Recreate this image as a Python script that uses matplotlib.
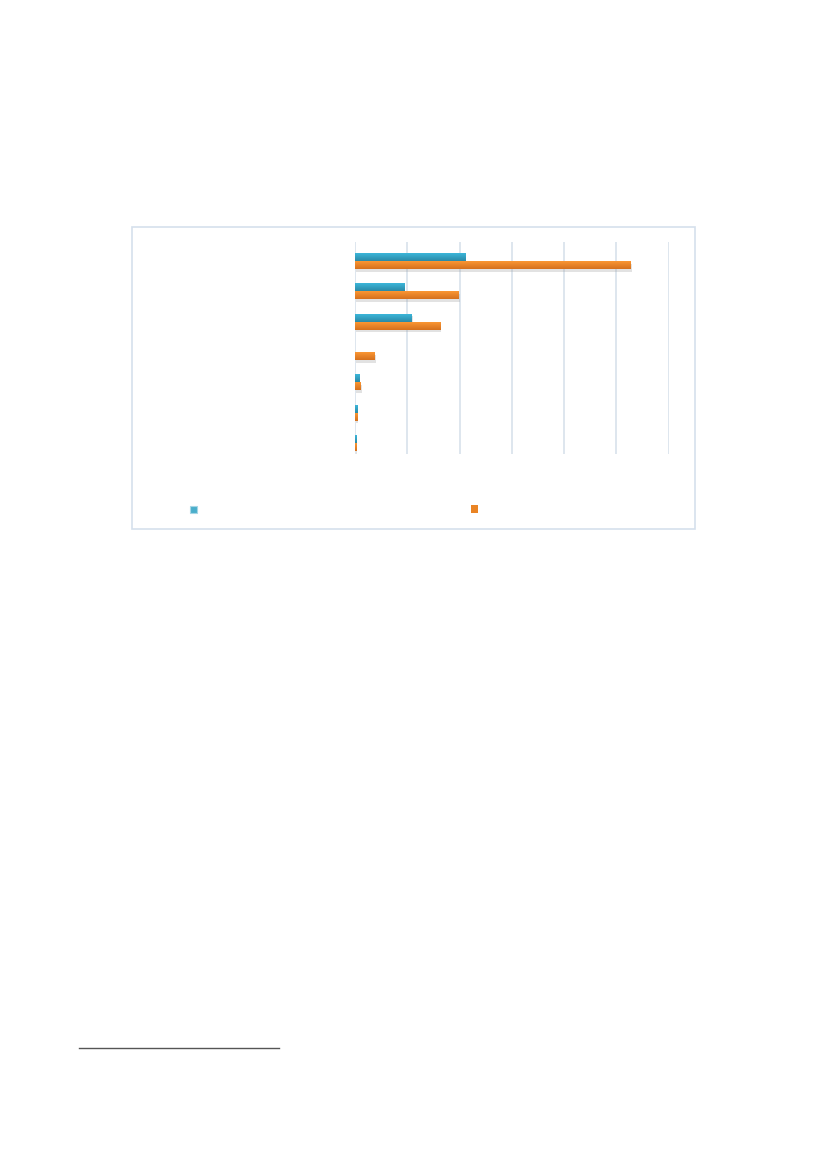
import matplotlib
matplotlib.use('Agg')
import matplotlib.pyplot as plt
import numpy as np
from matplotlib.colors import LinearSegmentedColormap
import matplotlib.patheffects as pe
from matplotlib.patches import Rectangle
from matplotlib.lines import Line2D

# ---- data (in gridline units of 10) ----
categories = ["1", "2", "3", "4", "5", "6", "7"]   # category labels are not visible in the reference
series1 = [21.1, 9.4, 10.9, 0.0, 0.8, 0.4, 0.2]    # blue
series2 = [52.8, 19.9, 16.3, 3.8, 1.1, 0.4, 0.2]   # orange
x_ticks = [0, 10, 20, 30, 40, 50, 60]

W, H = 827, 1169
fig = plt.figure(figsize=(W / 100, H / 100), dpi=100)
fig.patch.set_facecolor('white')

def fx(px):
    return px / W

def fy(py):
    return 1 - py / H

# chart frame
fig.patches.append(Rectangle((fx(131.7), fy(529.3)), fx(695.3) - fx(131.7), fy(226.7) - fy(529.3),
                             transform=fig.transFigure, facecolor='none', edgecolor='#d5e0ec', lw=1.2))

ax = fig.add_axes([fx(355), fy(454.3), fx(668.5) - fx(355), fy(242.3) - fy(454.3)])
ax.set_facecolor('none')

n = len(categories)
y = np.arange(n)
h = 0.264
off = 0.12
yb = y + off - h / 2
yo = y + off + h / 2

blue_cmap = LinearSegmentedColormap.from_list('b', ['#3cb6da', '#2a89a6'])
orange_cmap = LinearSegmentedColormap.from_list('o', ['#fa9734', '#d5701d'])
grad = np.linspace(0, 1, 64).reshape(-1, 1)

shadow = [pe.SimplePatchShadow(offset=(0.6, -2.0), shadow_rgbFace='#999999', alpha=0.28), pe.Normal()]
ax.barh(yb, series1, height=h, color='#32a0c0', zorder=2, path_effects=shadow)
ax.barh(yo, series2, height=h, color='#e8821f', zorder=2, path_effects=shadow)

for yc, v in zip(yb, series1):
    if v > 0:
        ax.imshow(grad, extent=(0, v, yc + h / 2, yc - h / 2), cmap=blue_cmap, aspect='auto',
                  zorder=3, interpolation='bilinear')
for yc, v in zip(yo, series2):
    if v > 0:
        ax.imshow(grad, extent=(0, v, yc + h / 2, yc - h / 2), cmap=orange_cmap, aspect='auto',
                  zorder=3, interpolation='bilinear')

ax.set_xlim(x_ticks[0], x_ticks[-1])
ax.set_ylim(n - 0.5, -0.5)
ax.set_xticks(x_ticks)
ax.set_yticks(y)
ax.set_xticklabels([])
ax.set_yticklabels([])
ax.tick_params(length=0)
ax.xaxis.grid(True, color='#d4dfea', lw=1.1)
ax.yaxis.grid(False)
ax.set_axisbelow(True)
for s in ax.spines.values():
    s.set_visible(False)

# legend markers (legend text is not visible in the reference)
fig.patches.append(Rectangle((fx(190), fy(513)), 7 / W, 7 / H, transform=fig.transFigure,
                             facecolor='#4aaecb', edgecolor='#a6d6e5', lw=0.8))
fig.patches.append(Rectangle((fx(471), fy(513)), 7 / W, 8 / H, transform=fig.transFigure,
                             facecolor='#ea8424', edgecolor='none'))

# footnote separator line
fig.lines.append(Line2D([fx(79), fx(279)], [fy(1048), fy(1048)], transform=fig.transFigure,
                        color='#555555', lw=1.0))

fig.savefig('out.png', dpi=100, facecolor='white')
